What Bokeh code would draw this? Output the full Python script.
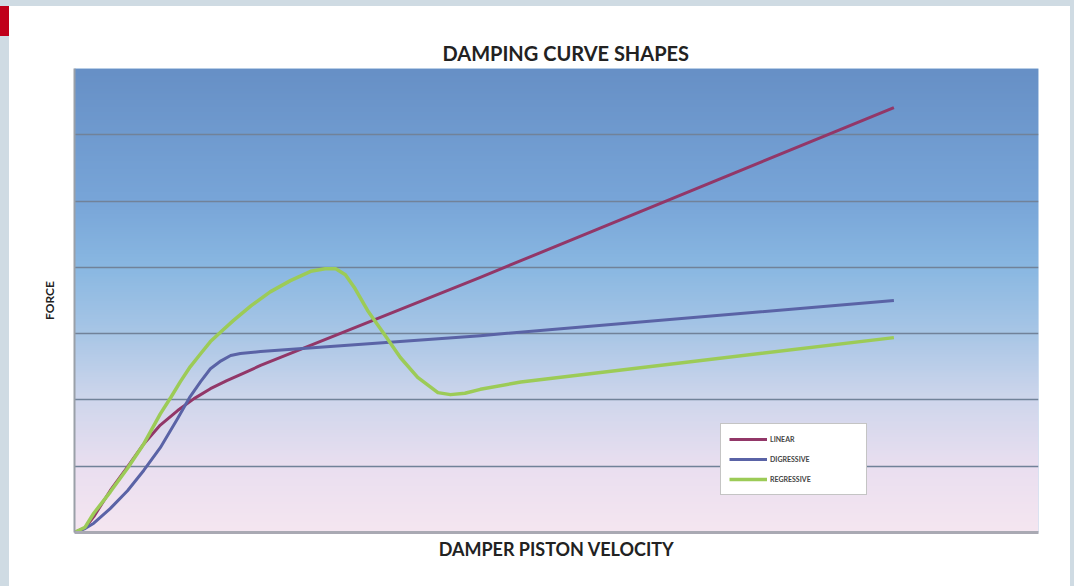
import numpy as np
from bokeh.plotting import figure
from bokeh.models import Div, Spacer, Legend, LegendItem, FixedTicker
from bokeh.layouts import row, column
from bokeh.embed import file_html
from bokeh.resources import INLINE

# ---- data (x = velocity 0..100, y = force 0..7) ----
linear_x = [0, 1.1, 2.0, 3.7, 5.5, 7.2, 8.9, 10.7, 12.4, 14.1, 15.8, 17.5, 19.3, 42.1, 85.0]
linear_y = [0, 0.07, 0.24, 0.63, 0.99, 1.34, 1.62, 1.84, 2.02, 2.17, 2.29, 2.40, 2.52, 3.85, 6.41]

digressive_x = [0, 1.1, 2.0, 3.7, 5.5, 7.2, 8.9, 10.7, 12.0, 13.1, 14.1, 15.2, 16.2, 17.2, 19.3, 42.1, 85.0]
digressive_y = [0, 0.06, 0.14, 0.36, 0.63, 0.94, 1.28, 1.72, 2.05, 2.28, 2.47, 2.59, 2.67, 2.70, 2.73, 2.97, 3.50]

regressive_x = [0, 1.1, 2.0, 3.7, 5.5, 7.2, 8.9, 10.0, 11.0, 12.0, 13.1, 14.1, 15.2, 16.5, 18.3, 20.3,
                22.4, 24.5, 26.0, 27.1, 28.1, 29.1, 30.4, 32.1, 33.8, 35.6, 37.7, 39.0, 40.5, 42.1,
                46.3, 85.0]
regressive_y = [0, 0.08, 0.29, 0.61, 0.97, 1.34, 1.79, 2.04, 2.28, 2.50, 2.70, 2.88, 3.03, 3.20, 3.42,
                3.63, 3.80, 3.94, 3.98, 3.98, 3.89, 3.68, 3.35, 3.00, 2.64, 2.34, 2.11, 2.08, 2.10,
                2.16, 2.27, 2.94]

series_names = ["LINEAR", "DIGRESSIVE", "REGRESSIVE"]
grid_ticks = [1, 2, 3, 4, 5, 6]

BG = "#cfdbe3"
FONT = "Lato"

p = figure(width=1061, height=580, x_range=(0, 100), y_range=(0, 7),
           output_backend="svg", toolbar_location=None,
           min_border_left=65, min_border_right=32, min_border_top=62, min_border_bottom=54,
           border_fill_color="white", background_fill_color="#a8c6e6",
           outline_line_color=None, margin=(0, 0, 0, 0))

# gradient background of the plot area
stops = [(0.0, (103, 144, 198)), (0.28, (120, 165, 216)), (0.43, (138, 184, 226)),
         (0.57, (168, 198, 230)), (0.71, (206, 214, 236)), (0.86, (234, 223, 240)), (1.0, (245, 230, 240))]
n = 256
img = np.zeros((n, 2), dtype=np.uint32)
view = img.view(dtype=np.uint8).reshape((n, 2, 4))
for i in range(n):
    t = 1 - i / (n - 1)  # row 0 is bottom
    for k in range(len(stops) - 1):
        t0, c0 = stops[k]
        t1, c1 = stops[k + 1]
        if t0 <= t <= t1:
            f = (t - t0) / (t1 - t0)
            c = [int(c0[j] + (c1[j] - c0[j]) * f) for j in range(3)]
            break
    view[i, :, 0] = c[0]
    view[i, :, 1] = c[1]
    view[i, :, 2] = c[2]
    view[i, :, 3] = 255
bg = p.image_rgba(image=[img], x=0, y=0, dw=100, dh=7)
bg.level = "image"

# lines
r1 = p.line(linear_x, linear_y, line_color="#923768", line_width=3, line_join="round")
r2 = p.line(digressive_x, digressive_y, line_color="#5a63a6", line_width=3, line_join="round")
r3 = p.line(regressive_x, regressive_y, line_color="#9ccb57", line_width=3.5, line_join="round")

# grid
p.xgrid.visible = False
p.ygrid.ticker = FixedTicker(ticks=grid_ticks)
p.ygrid.grid_line_color = "#718299"
p.ygrid.grid_line_width = 1.5
p.ygrid.level = "underlay"

# axes
for ax in (p.xaxis[0], p.yaxis[0]):
    ax.ticker = FixedTicker(ticks=[])
    ax.major_label_text_font_size = "0px"
    ax.major_tick_line_color = None
    ax.minor_tick_line_color = None
    ax.axis_label_text_font = FONT
    ax.axis_label_text_font_style = "bold"
    ax.axis_label_text_color = "#222222"
p.xaxis.axis_label = "DAMPER PISTON VELOCITY"
p.yaxis.axis_label = "FORCE"
p.xaxis.axis_label_text_font_size = "18px"
p.yaxis.axis_label_text_font_size = "12px"
p.xaxis.axis_line_color = "#a9a9b3"
p.xaxis.axis_line_width = 3
p.yaxis.axis_line_color = "#9aa0a8"
p.yaxis.axis_line_width = 2
p.xaxis.axis_label_standoff = 5
p.yaxis.axis_label_standoff = 18

# title
p.title.text = "DAMPING CURVE SHAPES"
p.title.align = "left"
p.title.offset = 368
p.title.text_font = FONT
p.title.text_font_size = "20px"
p.title.text_font_style = "bold"
p.title.text_color = "#222222"
p.title.standoff = 7

# legend
legend = Legend(items=[LegendItem(label=series_names[0], renderers=[r1]),
                       LegendItem(label=series_names[1], renderers=[r2]),
                       LegendItem(label=series_names[2], renderers=[r3])],
                location=(646, 37))
legend.padding = 8
legend.spacing = 6
legend.glyph_width = 38
legend.glyph_height = 14
legend.label_standoff = 3
legend.label_width = 88
legend.label_height = 14
legend.label_text_font = FONT
legend.label_text_font_size = "7px"
legend.label_text_font_style = "bold"
legend.label_text_color = "#444444"
legend.border_line_color = "#8a8a8a"
legend.border_line_width = 1.5
legend.background_fill_color = "white"
legend.background_fill_alpha = 1.0
legend.margin = 0
p.add_layout(legend)

red_mark = Div(width=9, height=30, styles={"background-color": "#c0001a"}, margin=(0, 0, 0, 0))
left_strip = Spacer(width=9, height=550, styles={"background-color": BG}, margin=(0, 0, 0, 0))
right_strip = Spacer(width=4, height=580, styles={"background-color": BG}, margin=(0, 0, 0, 0))
top_strip = Spacer(width=1074, height=6, styles={"background-color": BG}, margin=(0, 0, 0, 0))

layout = column(top_strip,
                row(column(red_mark, left_strip, spacing=0, margin=(0, 0, 0, 0)), p, right_strip,
                    spacing=0, margin=(0, 0, 0, 0)),
                spacing=0, margin=(0, 0, 0, 0))

open("out.html", "w").write(file_html(layout, INLINE))
